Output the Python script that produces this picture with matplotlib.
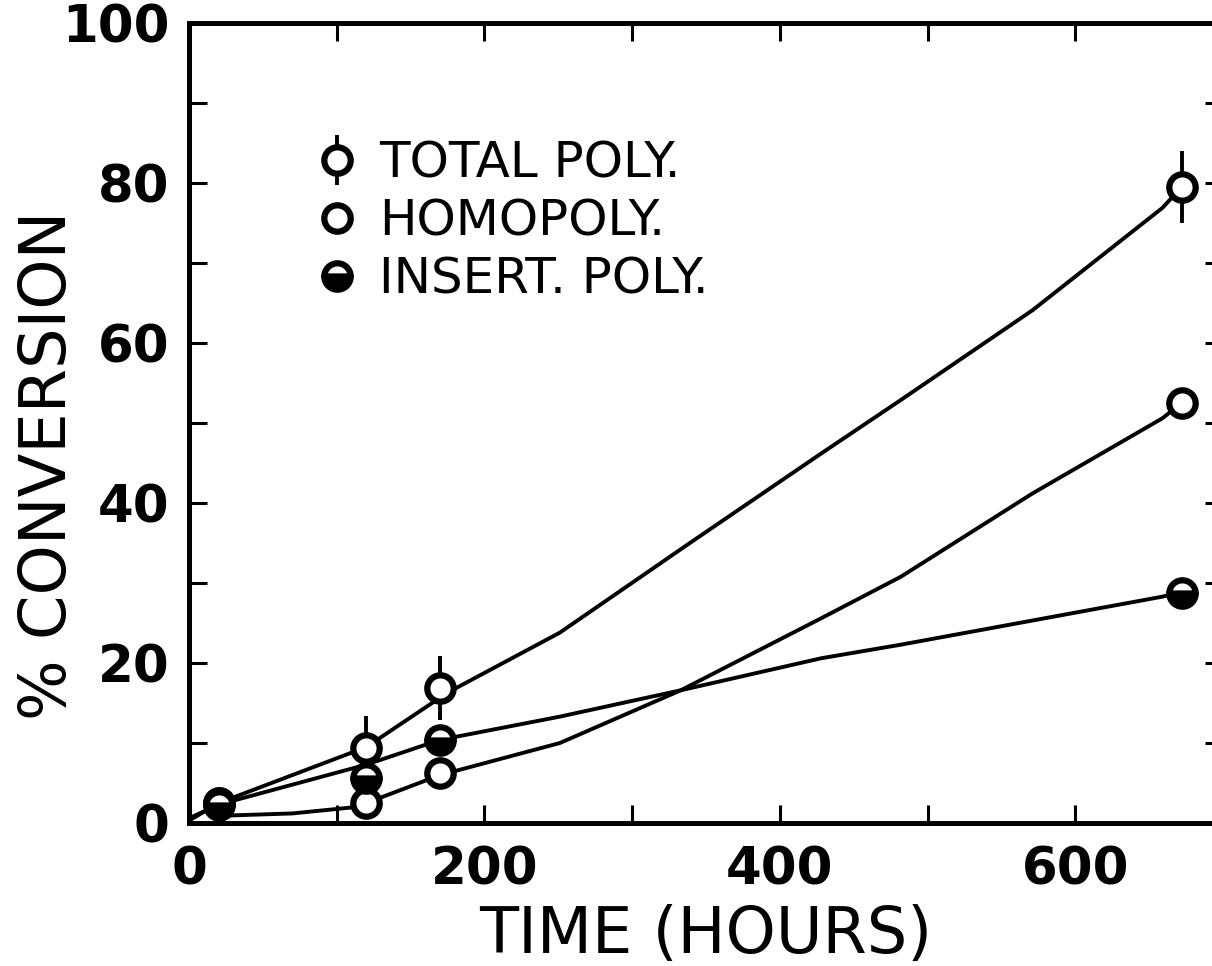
import matplotlib
matplotlib.use('Agg')
import matplotlib.pyplot as plt
from matplotlib.ticker import MultipleLocator

# measured points (hours, % conversion)
t_pts = [20, 120, 170, 672]
total_pts = [2.5, 9.4, 16.9, 79.5]
total_err = [0, 4.0, 4.0, 4.5]
homo_pts = [2.5, 2.5, 6.2, 52.5]
insert_pts = [2.2, 5.6, 10.4, 28.8]

# hand-drawn curves
total_curve_t = [0, 20, 120, 175, 251, 339, 428, 482, 571, 659, 672]
total_curve_y = [0.3, 2.5, 9.5, 16.3, 23.8, 35.0, 46.2, 52.9, 64.1, 76.9, 79.5]
homo_curve_t = [20, 70, 113, 120, 170, 251, 333, 428, 482, 571, 659, 672]
homo_curve_y = [0.9, 1.2, 2.0, 2.5, 6.0, 10.0, 16.6, 25.6, 30.8, 41.2, 50.6, 52.5]
insert_curve_t = [0, 20, 120, 170, 251, 333, 428, 482, 659, 670]
insert_curve_y = [0.6, 2.3, 7.3, 10.4, 13.3, 16.6, 20.6, 22.3, 28.3, 28.8]

labels = ['TOTAL POLY.', 'HOMOPOLY.', 'INSERT. POLY.']

fig = plt.figure(figsize=(12.12, 9.66), dpi=100)
ax = fig.add_axes([0.156, 0.148, 0.853, 0.828])

lw = 2.8
ax.plot(total_curve_t, total_curve_y, color='black', lw=lw, zorder=2)
ax.plot(homo_curve_t, homo_curve_y, color='black', lw=lw, zorder=2)
ax.plot(insert_curve_t, insert_curve_y, color='black', lw=lw, zorder=2)

mk = dict(markersize=19, markeredgewidth=4.5, markeredgecolor='black')
h1 = ax.errorbar(t_pts, total_pts, yerr=total_err, fmt='o', color='black',
                 ecolor='black', elinewidth=2.8, capsize=0,
                 markerfacecolor='white', zorder=3, **mk)
h2, = ax.plot(t_pts, homo_pts, 'o', markerfacecolor='white', zorder=4, **mk)
h3, = ax.plot(t_pts, insert_pts, 'o', markerfacecolor='black',
              fillstyle='bottom', markerfacecoloralt='white', zorder=5, **mk)

ax.set_xlim(0, 700)
ax.set_ylim(0, 100)
ax.xaxis.set_major_locator(MultipleLocator(200))
ax.xaxis.set_minor_locator(MultipleLocator(100))
ax.yaxis.set_major_locator(MultipleLocator(20))
ax.yaxis.set_minor_locator(MultipleLocator(10))
ax.tick_params(which='both', direction='in', top=True, right=True,
               length=13, width=2.2)
ax.tick_params(axis='x', labelsize=37, pad=16)
ax.tick_params(axis='y', labelsize=37, pad=14)
for lab in ax.get_xticklabels() + ax.get_yticklabels():
    lab.set_fontweight('bold')
for s in ax.spines.values():
    s.set_linewidth(3.6)

ax.set_xlabel('TIME (HOURS)', fontsize=46, labelpad=6)
ax.set_ylabel('% CONVERSION', fontsize=46)
ax.yaxis.set_label_coords(-0.136, 0.4475)
ax.yaxis.label.set_va('center')

leg = ax.legend([h1, h2, h3], labels, loc='upper left',
                bbox_to_anchor=(0.104, 0.88), frameon=False, fontsize=36,
                handlelength=0.8, handletextpad=0.45, labelspacing=0.2,
                numpoints=1, borderaxespad=0)

fig.savefig('out.png', dpi=100)
